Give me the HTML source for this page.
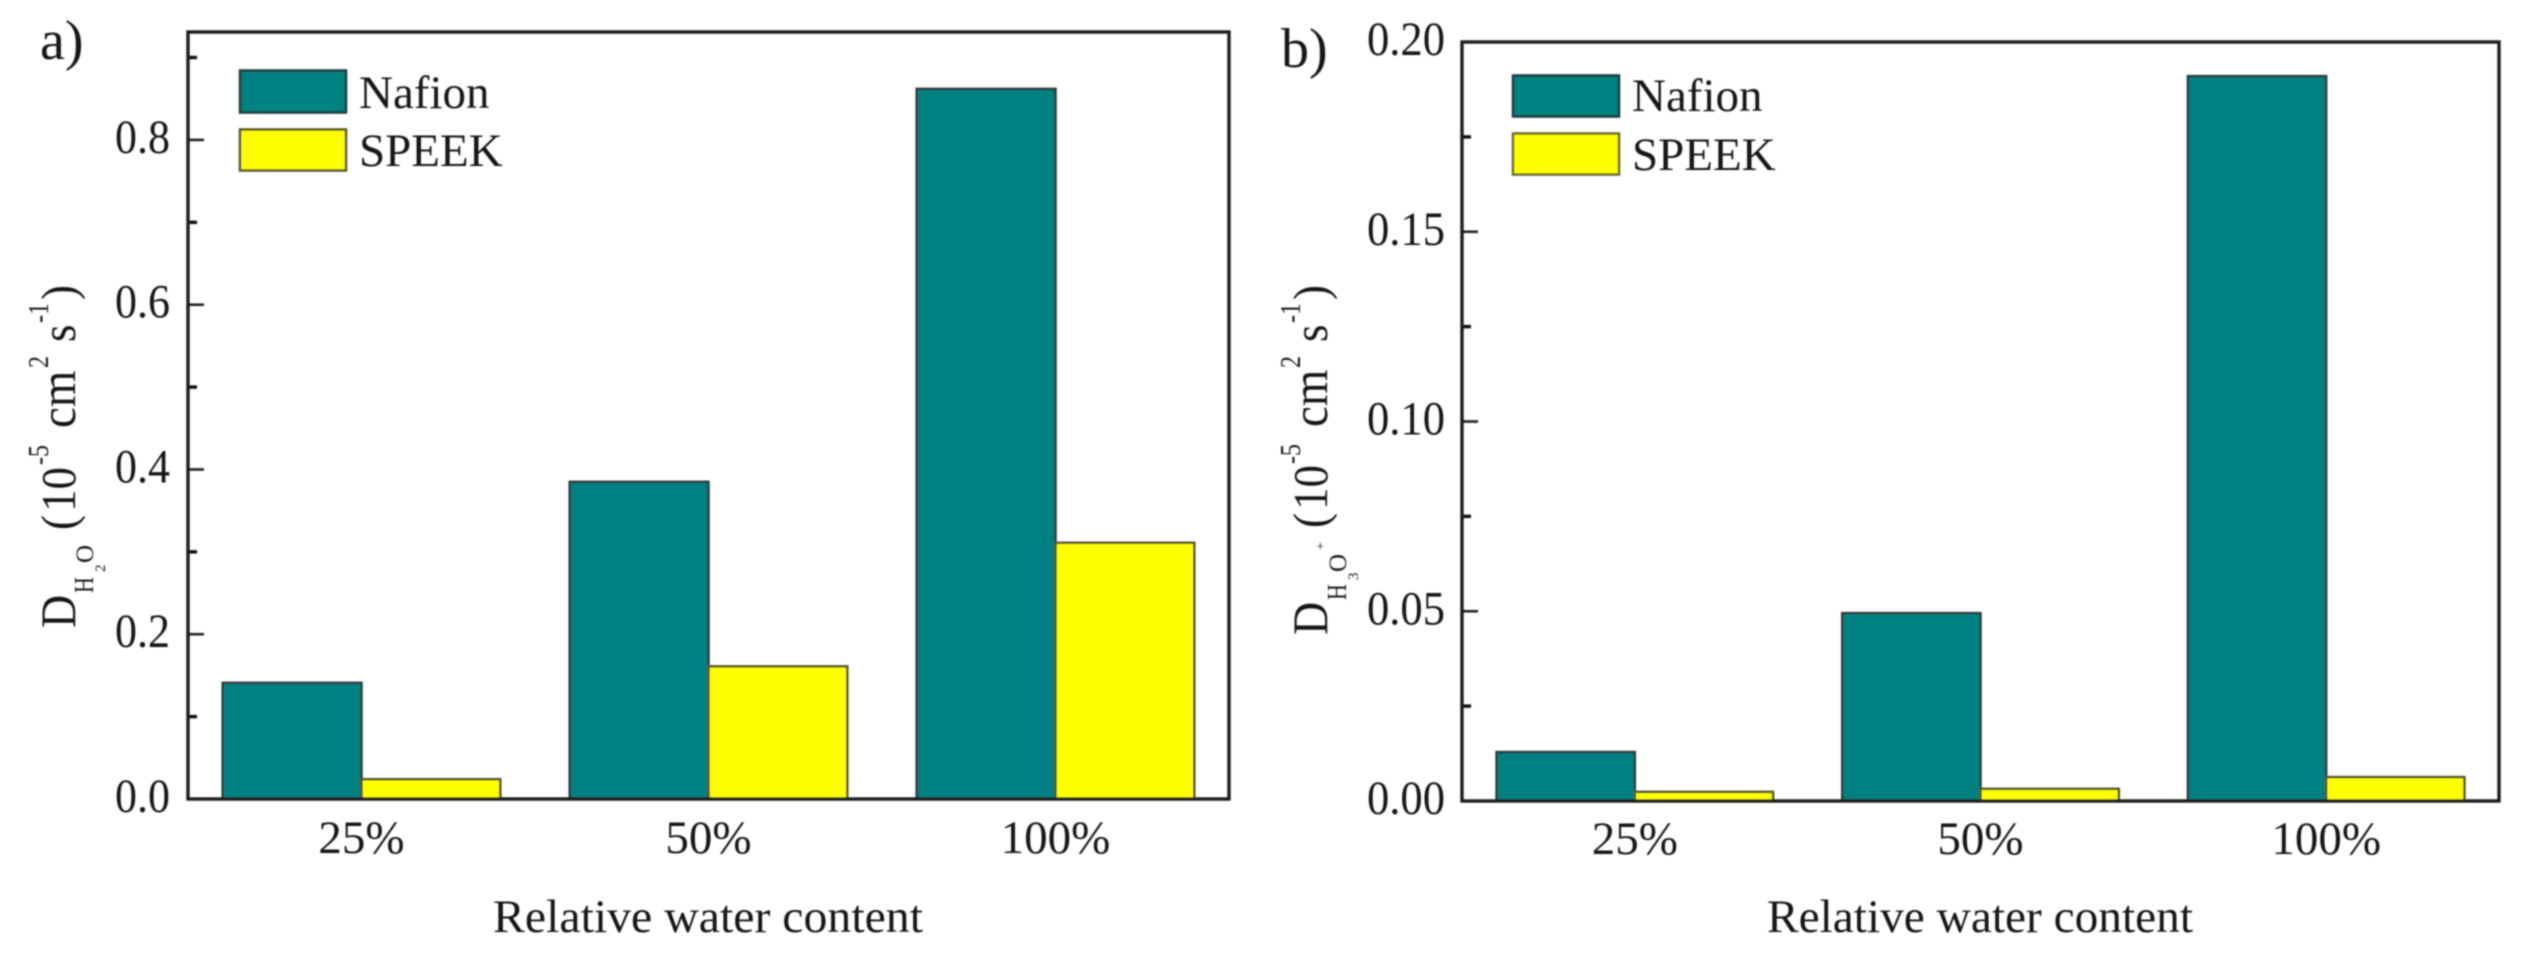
<!DOCTYPE html>
<html lang="en">
<head>
<meta charset="utf-8">
<title>Diffusion coefficients of water and hydronium in Nafion and SPEEK</title>
<style>
  html, body { margin: 0; padding: 0; background: #fff; }
  svg { display: block; }
  text { font-family: "Liberation Serif", serif; fill: #141414; }
</style>
</head>
<body>
<svg id="figure" width="2532" height="953" viewBox="0 0 2532 953" xmlns="http://www.w3.org/2000/svg">
  <defs>
    <filter id="soft" x="-2%" y="-2%" width="104%" height="104%"><feGaussianBlur stdDeviation="0.8"/></filter>
  </defs>
  <rect width="2532" height="953" fill="#ffffff"/>
  <g id="root" filter="url(#soft)">
    <text x="40" y="59" font-size="56">a)</text>
    <text x="1281" y="67" font-size="56">b)</text>

    <g id="plot-a"></g>
    <g id="plot-b"></g>

    <text x="708" y="932" font-size="47" text-anchor="middle" textLength="430" lengthAdjust="spacingAndGlyphs">Relative water content</text>
    <text x="1980" y="932" font-size="47" text-anchor="middle" textLength="426" lengthAdjust="spacingAndGlyphs">Relative water content</text>

    <g transform="translate(75,628) rotate(-90)">
      <text transform="translate(0,0) scale(1,1.08)" font-size="46">D</text>
      <text transform="translate(35,18) scale(1,1.25)" font-size="22">H</text>
      <text transform="translate(56,30)" font-size="15">2</text>
      <text transform="translate(65,18)" font-size="25">O</text>
      <text transform="translate(98,0) scale(1,1.08)" font-size="45">(</text>
      <text transform="translate(116,0) scale(1,1.08)" font-size="45">10</text>
      <text transform="translate(163,-27) scale(1,1.2)" font-size="24">-5</text>
      <text transform="translate(200,0) scale(1,1.08)" font-size="47">cm</text>
      <text transform="translate(260,-27) scale(1,1.2)" font-size="24">2</text>
      <text transform="translate(286,0) scale(1,1.08)" font-size="45">s</text>
      <text transform="translate(305,-27) scale(1,1.2)" font-size="24">-1</text>
      <text transform="translate(328,0) scale(1,1.08)" font-size="45">)</text>
    </g>
    <g transform="translate(1327,635) rotate(-90)">
      <text transform="translate(0,0) scale(1,1.08)" font-size="46">D</text>
      <text transform="translate(35,19) scale(1,1.25)" font-size="22">H</text>
      <text transform="translate(55,31)" font-size="15">3</text>
      <text transform="translate(63,19)" font-size="25">O</text>
      <text transform="translate(85,-2)" font-size="14">+</text>
      <text transform="translate(107,0) scale(1,1.08)" font-size="45">(</text>
      <text transform="translate(125,0) scale(1,1.08)" font-size="45">10</text>
      <text transform="translate(171,-27) scale(1,1.2)" font-size="24">-5</text>
      <text transform="translate(208,0) scale(1,1.08)" font-size="47">cm</text>
      <text transform="translate(267,-27) scale(1,1.2)" font-size="24">2</text>
      <text transform="translate(293,0) scale(1,1.08)" font-size="45">s</text>
      <text transform="translate(312,-27) scale(1,1.2)" font-size="24">-1</text>
      <text transform="translate(335,0) scale(1,1.08)" font-size="45">)</text>
    </g>

    <g>
      <rect x="240" y="70.5" width="106" height="42" fill="#008080" stroke="#1c3a3a" stroke-width="2.5"/>
      <text x="359" y="108" font-size="47">Nafion</text>
      <rect x="240" y="129.5" width="106" height="41" fill="#ffff00" stroke="#55552a" stroke-width="2.5"/>
      <text x="359" y="166" font-size="47">SPEEK</text>
    </g>
    <g>
      <rect x="1513" y="75.5" width="106" height="41" fill="#008080" stroke="#1c3a3a" stroke-width="2.5"/>
      <text x="1632" y="111" font-size="47">Nafion</text>
      <rect x="1513" y="133.5" width="106" height="41" fill="#ffff00" stroke="#6a6a2a" stroke-width="2.5"/>
      <text x="1632" y="170" font-size="47">SPEEK</text>
    </g>
  </g>
</svg>
<script>
const categories = ['25%', '50%', '100%'];

const nafionA = [0.141, 0.385, 0.862];
const speekA = [0.024, 0.161, 0.311];
const majorTicksA = [0, 0.2, 0.4, 0.6, 0.8];
const minorTicksA = [0.1, 0.3, 0.5, 0.7, 0.9];
const tickLabelsA = ['0.0', '0.2', '0.4', '0.6', '0.8'];
const yMaxA = 0.931;

const nafionB = [0.0129, 0.0495, 0.191];
const speekB = [0.0024, 0.0032, 0.0063];
const majorTicksB = [0, 0.05, 0.1, 0.15, 0.2];
const minorTicksB = [0.025, 0.075, 0.125, 0.175];
const tickLabelsB = ['0.00', '0.05', '0.10', '0.15', '0.20'];
const yMaxB = 0.2;

const SVG_NS = 'http://www.w3.org/2000/svg';

function make(parent, tag, attrs) {
  const el = document.createElementNS(SVG_NS, tag);
  for (const key in attrs) el.setAttribute(key, attrs[key]);
  parent.appendChild(el);
  return el;
}

function drawPanel(id, box, yMax, nafion, speek, majors, minors, labels) {
  const g = document.getElementById(id);
  const yScale = v => box.bottom - (v / yMax) * (box.bottom - box.top);
  const band = (box.right - box.left) / categories.length;
  const bandCentre = i => box.left + band * (i + 0.5);
  const barWidth = band * 0.4;

  categories.forEach((cat, i) => {
    const c = bandCentre(i);
    const a = make(g, 'rect', { x: c - barWidth, y: yScale(nafion[i]), width: barWidth, height: box.bottom - yScale(nafion[i]), fill: '#008080', stroke: '#2a3c3c', 'stroke-width': 2.5 });
    
    
    const b = make(g, 'rect', { x: c, y: yScale(speek[i]), width: barWidth, height: box.bottom - yScale(speek[i]), fill: '#ffff00', stroke: '#55552a', 'stroke-width': 2.5 });
    
    
    const t = make(g, 'text', { x: c, y: box.xLabelY, 'font-size': 47, 'text-anchor': 'middle' });
    t.textContent = cat;
    
    
  });

  majors.forEach((v, i) => {
    const y = yScale(v);
    const tick = make(g, 'line', { x1: box.left, x2: box.left + 16, y1: y, y2: y, stroke: '#222', 'stroke-width': 2.6 });
    
    
    const t = make(g, 'text', { x: box.labelRight, y: y + 13, 'font-size': 48, 'text-anchor': 'end', textLength: labels[i].length === 3 ? 55 : 78, lengthAdjust: 'spacingAndGlyphs' });
    t.textContent = labels[i];
    
    
  });

  minors.forEach(v => {
    const y = yScale(v);
    const tick = make(g, 'line', { x1: box.left, x2: box.left + 9, y1: y, y2: y, stroke: '#111', 'stroke-width': 3.4 });
    
    
  });

  const frame = make(g, 'rect', { x: box.left, y: box.top, width: box.right - box.left, height: box.bottom - box.top, fill: 'none', stroke: '#1a1a1a', 'stroke-width': 3.4 });
  
  
}

drawPanel('plot-a', { left: 188, right: 1229, top: 32, bottom: 799, labelRight: 170, xLabelY: 853 }, yMaxA, nafionA, speekA, majorTicksA, minorTicksA, tickLabelsA);
drawPanel('plot-b', { left: 1462, right: 2499, top: 42, bottom: 801, labelRight: 1445, xLabelY: 854 }, yMaxB, nafionB, speekB, majorTicksB, minorTicksB, tickLabelsB);
</script>
</body>
</html>
